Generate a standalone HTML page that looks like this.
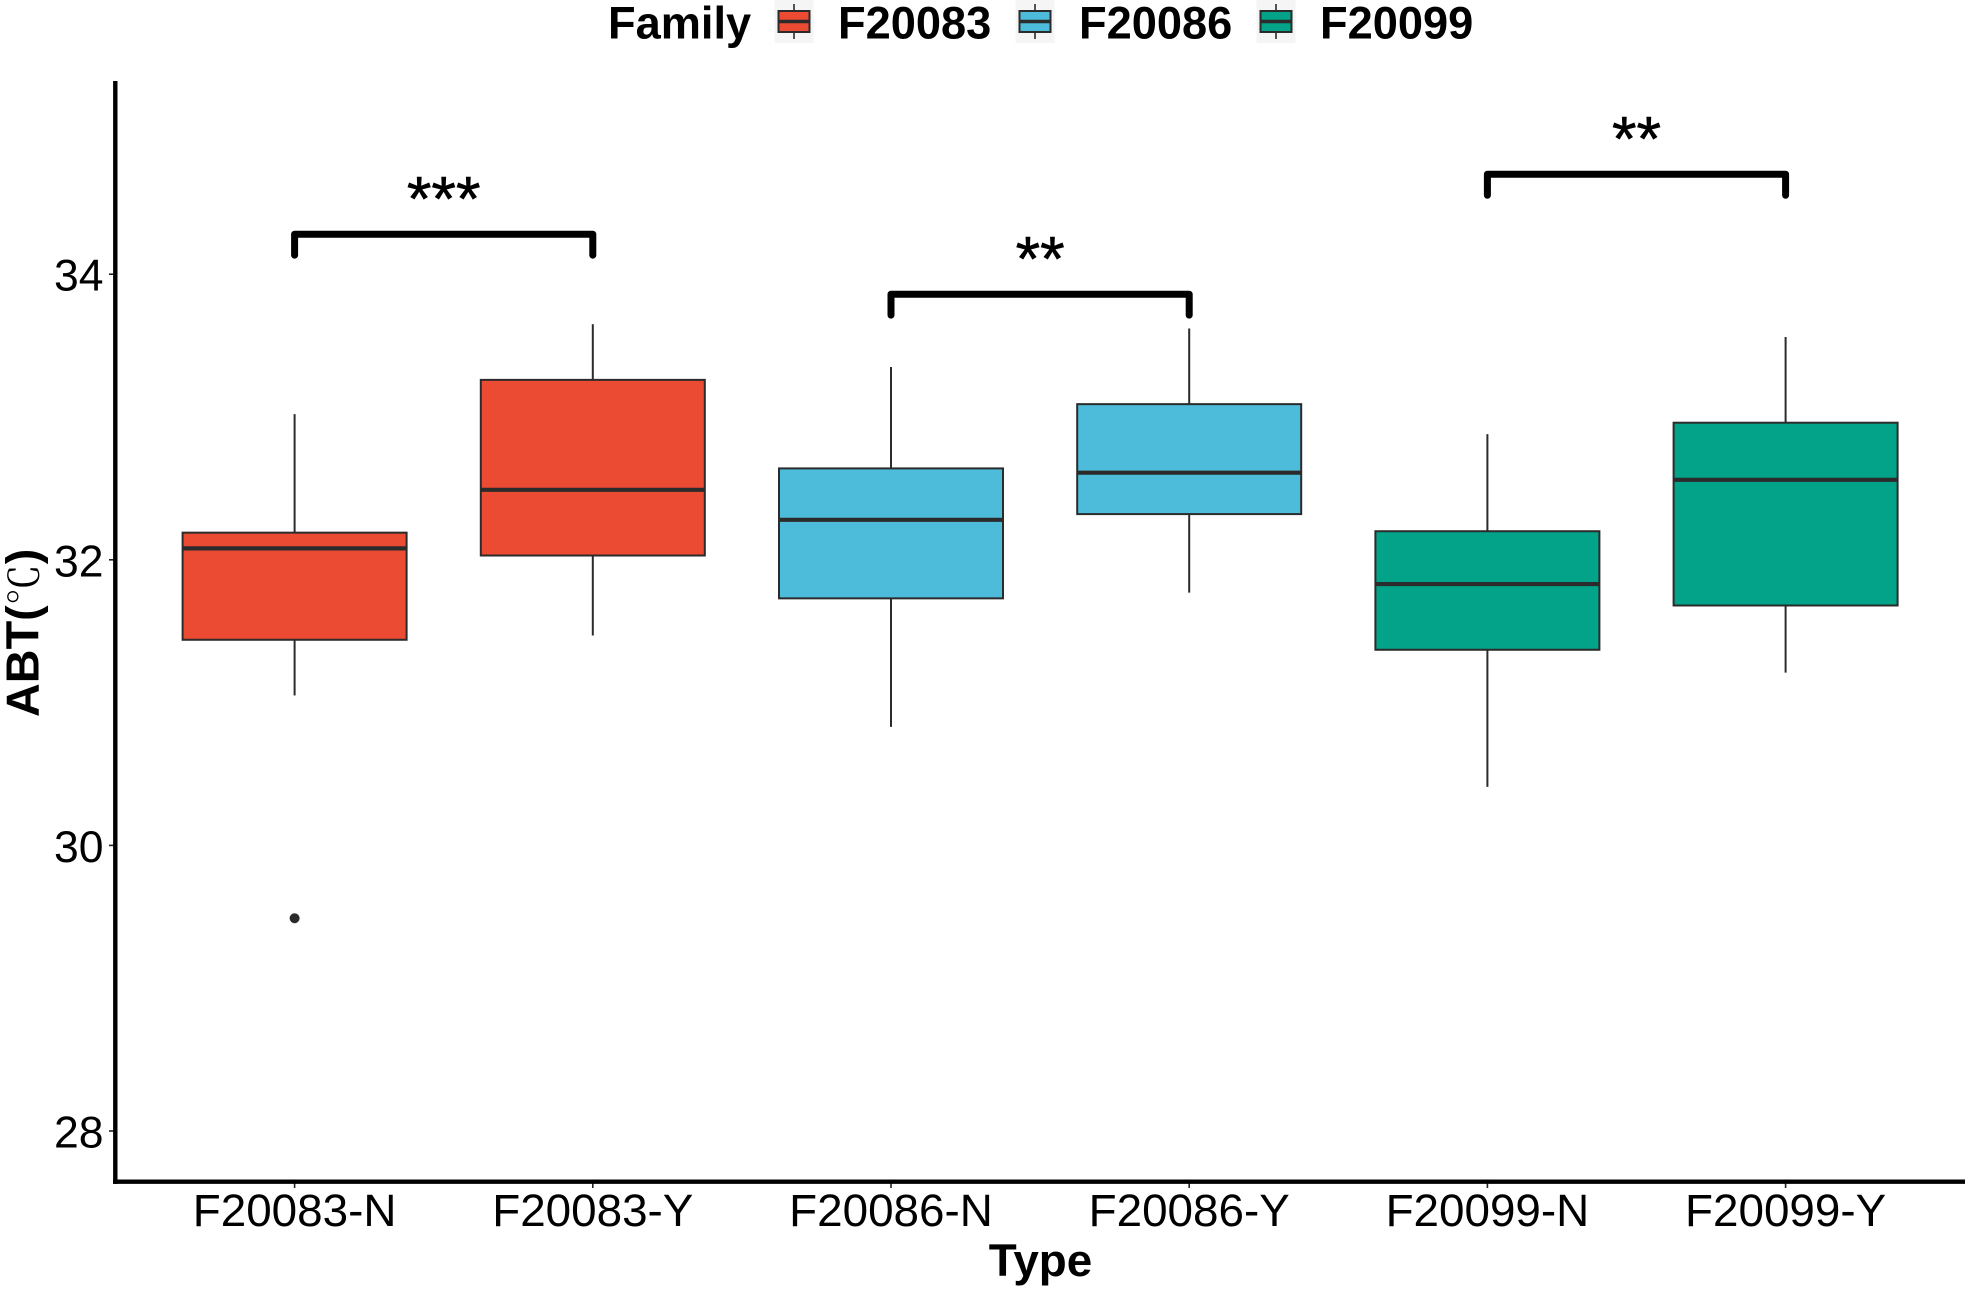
<!DOCTYPE html>
<html lang="en">
<head>
<meta charset="utf-8">
<title>ABT by Type and Family</title>
<style>
  html, body { margin: 0; padding: 0; background: #ffffff; }
  body { width: 1969px; height: 1290px; overflow: hidden; }
  svg { display: block; font-family: "Liberation Sans", "Noto Sans CJK SC", sans-serif; }
  .bold { font-weight: 700; }
</style>
</head>
<body>
<svg id="chart" xmlns="http://www.w3.org/2000/svg" width="1969" height="1290" viewBox="0 0 1969 1290">
  <rect x="0" y="0" width="1969" height="1290" fill="#ffffff"/>
  <g id="legend">
    <text class="bold" x="608" y="38.5" font-size="45.2" fill="#000">Family</text>
  </g>
  <g id="ticks"></g>
  <g id="boxes"></g>
  <g id="brackets"></g>
  <line x1="115.3" y1="81" x2="115.3" y2="1183.9" stroke="#000" stroke-width="4.4"/>
  <line x1="113.1" y1="1181.7" x2="1965" y2="1181.7" stroke="#000" stroke-width="4.4"/>
  <text class="bold" x="1040.5" y="1276" font-size="45.8" text-anchor="middle" fill="#000">Type</text>
  <text class="bold" transform="translate(38.5,717) rotate(-90)" x="0" y="0" font-size="46.8" fill="#000">ABT(<tspan font-family="'Noto Serif CJK SC', serif" font-weight="400" font-size="41">℃</tspan>)</text>
</svg>
<script>
const categories = ["F20083-N", "F20083-Y", "F20086-N", "F20086-Y", "F20099-N", "F20099-Y"];
const families = ["F20083", "F20083", "F20086", "F20086", "F20099", "F20099"];
const whiskerHigh = [33.02, 33.65, 33.35, 33.62, 32.88, 33.56];
const q3Values = [32.19, 33.26, 32.64, 33.09, 32.20, 32.96];
const medians = [32.08, 32.49, 32.28, 32.61, 31.83, 32.56];
const q1Values = [31.44, 32.03, 31.73, 32.32, 31.37, 31.68];
const whiskerLow = [31.05, 31.47, 30.83, 31.77, 30.41, 31.21];
const outlierValues = [[29.49], [], [], [], [], []];
const yTickValues = [28, 30, 32, 34];
const familyNames = ["F20083", "F20086", "F20099"];
const bracketStarts = [0, 2, 4];
const bracketEnds = [1, 3, 5];
const bracketLevels = [34.28, 33.86, 34.70];
const bracketLabels = ["***", "**", "**"];

const familyFill = { F20083: "#EC4B33", F20086: "#4DBCDB", F20099: "#02A388" };
const NS = "http://www.w3.org/2000/svg";
const INK = "#2b2b2b";

function xScale(i) { return 294.6 + i * 298.2; }
function yScale(v) { return 1131 - (v - 28) * 142.8; }

function mk(tag, parent, attrs) {
  const el = document.createElementNS(NS, tag);
  for (const k in attrs) el.setAttribute(k, attrs[k]);
  parent.appendChild(el);
  return el;
}

const ticksG = document.getElementById("ticks");
yTickValues.forEach(function (v) {
  const t = mk("line", ticksG, { x1: 109, x2: 114, y1: yScale(v), y2: yScale(v), stroke: "#222", "stroke-width": 1.6 });
  
  
  const l = mk("text", ticksG, { x: 103.5, y: yScale(v) + 16.5, "text-anchor": "end", "font-size": 44.5, fill: "#000" });
  
  
  l.textContent = v;
});
categories.forEach(function (c, i) {
  const t = mk("line", ticksG, { x1: xScale(i), x2: xScale(i), y1: 1183, y2: 1188, stroke: "#222", "stroke-width": 1.6 });
  
  
  const l = mk("text", ticksG, { x: xScale(i), y: 1226, "text-anchor": "middle", "font-size": 45.8, fill: "#000" });
  
  
  l.textContent = c;
});

const boxesG = document.getElementById("boxes");
const BOX_HALF = 112;
categories.forEach(function (c, i) {
  const g = mk("g", boxesG, {});
  
  
  const x = xScale(i);
  const wh = mk("line", g, { x1: x, x2: x, y1: yScale(whiskerHigh[i]), y2: yScale(q3Values[i]), stroke: INK, "stroke-width": 2 });
  
  
  const wl = mk("line", g, { x1: x, x2: x, y1: yScale(q1Values[i]), y2: yScale(whiskerLow[i]), stroke: INK, "stroke-width": 2 });
  
  
  const r = mk("rect", g, {
    x: x - BOX_HALF, width: BOX_HALF * 2,
    y: yScale(q3Values[i]), height: yScale(q1Values[i]) - yScale(q3Values[i]),
    fill: familyFill[families[i]], stroke: INK, "stroke-width": 2
  });
  
  
  const m = mk("line", g, { x1: x - BOX_HALF, x2: x + BOX_HALF, y1: yScale(medians[i]), y2: yScale(medians[i]), stroke: INK, "stroke-width": 4.2 });
  
  
  outlierValues[i].forEach(function (v) {
    const o = mk("circle", g, { cx: x, cy: yScale(v), r: 5, fill: INK });
    
    
  });
});

const bracketsG = document.getElementById("brackets");
const TIP = 0.147;
bracketLevels.forEach(function (lv, i) {
  const x1 = xScale(bracketStarts[i]);
  const x2 = xScale(bracketEnds[i]);
  const p = mk("path", bracketsG, {
    d: "M" + x1 + " " + yScale(lv - TIP) + "L" + x1 + " " + yScale(lv) + "L" + x2 + " " + yScale(lv) + "L" + x2 + " " + yScale(lv - TIP),
    fill: "none", stroke: "#000", "stroke-width": 7, "stroke-linecap": "round", "stroke-linejoin": "round"
  });
  
  
  const t = mk("text", bracketsG, { x: (x1 + x2) / 2, y: yScale(lv) - 13.5, "text-anchor": "middle", "font-size": 63, fill: "#000", stroke: "#000", "stroke-width": 0.6 });
  
  
  t.textContent = bracketLabels[i];
});

const legendG = document.getElementById("legend");
const KEY_STEP = 241;
familyNames.forEach(function (name, i) {
  const kx = 774.5 + i * KEY_STEP;
  const g = mk("g", legendG, {});
  
  
  mk("rect", g, { x: kx, y: 0, width: 39, height: 43, fill: "#f5f5f5" });
  mk("line", g, { x1: kx + 19.5, x2: kx + 19.5, y1: 4, y2: 39, stroke: INK, "stroke-width": 1.6 });
  mk("rect", g, { x: kx + 4, y: 11, width: 31, height: 21, fill: familyFill[name], stroke: INK, "stroke-width": 2 });
  mk("line", g, { x1: kx + 4, x2: kx + 35, y1: 21.5, y2: 21.5, stroke: INK, "stroke-width": 3.4 });
  const t = mk("text", g, { x: kx + 63.5, y: 38.5, "font-size": 45.2, "font-weight": 700, fill: "#000" });
  
  
  t.textContent = name;
});
</script>
</body>
</html>
